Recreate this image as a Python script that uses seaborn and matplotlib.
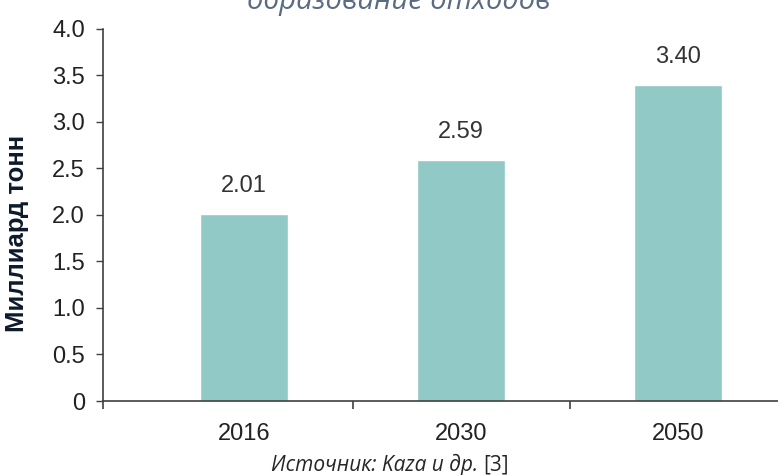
import matplotlib
matplotlib.use("Agg")
import matplotlib.pyplot as plt
import numpy as np
import pandas as pd
import seaborn as sns

# --- donnees
annees = ["2016", "2030", "2050"]
dechets = [2.01, 2.59, 3.40]
y_ticks = [0, 0.5, 1.0, 1.5, 2.0, 2.5, 3.0, 3.5, 4.0]
y_labels = ["0", "0.5", "1.0", "1.5", "2.0", "2.5", "3.0", "3.5", "4.0"]

titre = "образование отходов"
y_titre = "Миллиард тонн"
source = "Источник: Kaza и др."
ref = "[3]"

df = pd.DataFrame({"annee": annees, "valeur": dechets})

sns.set_style("ticks")
plt.rcParams["font.family"] = ["Liberation Sans", "DejaVu Sans"]

W, H = 778, 475
fig = plt.figure(figsize=(W / 100, H / 100), dpi=100)
ax = fig.add_axes([103 / W, 1 - 401 / H, 1 - 103 / W, (401 - 28.7) / H])

sns.barplot(data=df, x="annee", y="valeur", color="#90c9c6", width=0.405,
            saturation=1, ax=ax)

for i, v in enumerate(dechets):
    ax.annotate(f"{v:.2f}", (i, v), xytext=(0, 12), textcoords="offset points",
                ha="center", va="bottom", fontsize=17, color="#333333")

ax.set_xlim(-0.65, 2.46)
ax.set_ylim(0, 4)
ax.set_yticks(y_ticks)
ax.set_yticklabels(y_labels)
ax.set_xticks([-0.65, 0.5, 1.5], minor=True)

for s in ["top", "right"]:
    ax.spines[s].set_visible(False)
for s in ["left", "bottom"]:
    ax.spines[s].set_color("#404040")
    ax.spines[s].set_linewidth(1.2)

ax.tick_params(axis="y", length=5, width=1, color="#404040", pad=8,
               labelsize=17, labelcolor="#222222")
ax.tick_params(axis="x", which="major", length=0, pad=16, labelsize=17,
               labelcolor="#222222")
ax.tick_params(axis="x", which="minor", length=6, width=1.2, color="#404040")

ax.set_xlabel("")
ax.set_ylabel(y_titre, fontsize=18.5, fontweight="bold", color="#0d1a2b")
ax.yaxis.set_label_coords(-0.1096, 0.45)

fig.text(247 / W, 1 - 9 / H, titre, fontsize=21, style="italic",
         family=["Open Sans", "DejaVu Sans"], color="#5b6b82",
         ha="left", va="baseline")

t = fig.text(271 / W, 1 - 471 / H, source, fontsize=15, style="italic",
             family=["Open Sans", "DejaVu Sans"], color="#262626",
             ha="left", va="baseline")
fig.canvas.draw()
bb = t.get_window_extent()
fig.text((bb.x1 + 5) / W, 1 - 471 / H, ref, fontsize=15,
         family=["Open Sans", "DejaVu Sans"], color="#262626",
         ha="left", va="baseline")

fig.savefig("out.png", dpi=100)
